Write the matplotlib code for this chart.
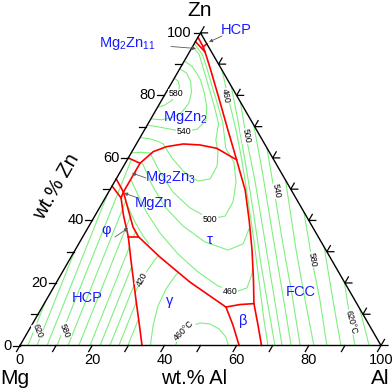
import numpy as np
import matplotlib
matplotlib.use('Agg')
import matplotlib.pyplot as plt
from matplotlib.path import Path

plt.rcParams['font.family'] = ['Liberation Sans', 'DejaVu Sans']
plt.rcParams['mathtext.fontset'] = 'custom'
plt.rcParams['mathtext.rm'] = 'Liberation Sans'
plt.rcParams['mathtext.it'] = 'Liberation Sans:italic'

# ---------------- data: compositions (wt.% Al, wt.% Zn) ----------------
# red phase boundaries
hcp_gamma = [(33.8, 0), (29.4, 7.2), (24.85, 14.56), (17.05, 27.35), (12.6, 34.8)]
hcp_phi = [(12.6, 34.8), (7.8, 41.7), (4.4, 47.2)]
phi_gamma = [(12.6, 34.8), (15.4, 34.8)]
phi_tau = [(15.4, 34.8), (12.35, 37.9), (4.1, 49.1)]
hcp_mgzn = [(0, 51.0), (4.4, 47.2)]
mgzn_phi = [(4.4, 47.2), (4.1, 49.1)]
mg2zn3_mgzn = [(0, 53.3), (4.1, 49.1)]
mg2zn3_tau = [(4.1, 49.1), (4.1, 58.3)]
mg2zn3_mgzn2 = [(0, 60.0), (4.1, 58.3)]
tau_mgzn2 = [(4.1, 58.3), (5.9, 62.0), (8.8, 63.6), (13.0, 64.46), (17.8, 64.14), (22.95, 63.08), (30.3, 59.4)]
fcc_mgzn2 = [(30.3, 59.4), (23.15, 68.9), (14.8, 80.1), (8.25, 88.8), (4.3, 93.9)]
fcc_tau = [(30.3, 59.4), (33.2, 55.5), (37.5, 49.74), (43.4, 40.15), (49.0, 30.55), (54.2, 20.95), (58.1, 13.4)]
gamma_tau = [(15.4, 34.8), (24.6, 28.3), (36.9, 20.3), (50.9, 12.3)]
gamma_beta = [(50.9, 12.3), (55.7, 6.56), (60.7, 0)]
beta_tau = [(50.9, 12.3), (54.4, 13.1), (58.1, 13.4)]
beta_fcc = [(58.1, 13.4), (62.65, 6.56), (66.9, 0)]
mgzn2_mg2zn11 = [(0, 97.2), (4.3, 93.9)]
mg2zn11_fcc = [(4.3, 93.9), (3.0, 95.5)]
mg2zn11_hcp = [(0, 98.6), (3.0, 95.5)]
hcpzn_fcc = [(3.0, 95.5), (3.5, 96.5)]

# green liquidus isotherms
iso_hcp = [
    [(2.2, 0), (0, 14.3)],
    [(4.7, 0), (0, 30.6)],
    [(7.5, 0), (0, 48.8)],
    [(10.25, 0), (0.88, 61)],
    [(13.3, 0), (3.93, 61)],
    [(16.3, 0), (6.93, 61)],
    [(19.4, 0), (10.03, 61)],
    [(22.2, 0), (12.83, 61)],
    [(24.9, 0), (15.53, 61)],
    [(27.4, 0), (18.03, 61)],
    [(29.9, 0), (20.53, 61)],
]
iso_gamma = [
    [(23.6, 14.9), (23.3, 18.7), (23.2, 21.3), (23.3, 24.2), (23.6, 27.0), (24.1, 29.9), (24.5, 31.5)],
    [(36.3, -0.5), (33.6, 6.6), (31.9, 12.6), (31.4, 18.1), (31.9, 22.6), (32.8, 24.8)],
    [(43.2, -0.5), (42.6, 2.4), (42.8, 4.6), (44.0, 6.2), (46.3, 7.2), (49.2, 6.9), (52.5, 5.3), (55.7, 2.7), (58.1, -0.5)],
]
iso_tau_mgzn2 = [
    [(0, 85.5), (1.5, 84.6), (2.8, 82.8), (3.3, 80.5), (2.8, 78.3), (1.5, 76.8), (0, 76.2)],
    [(0, 88.5), (2.5, 87.2), (5.0, 84.5), (7.0, 81.0), (8.0, 77.5), (7.5, 74.5), (5.5, 72.8), (3.0, 72.2), (0, 72.5)],
    [(0, 91.0), (3.0, 89.3), (5.5, 87.0), (7.5, 85.0), (10.5, 81.0), (13.5, 76.5), (15.5, 72.0), (14.5, 69.2),
     (11.2, 68.4), (7.0, 69.2), (3.0, 70.0), (0, 70.5)],
    [(0, 66.5), (2.5, 66.2), (5.0, 65.5), (7.4, 64.5), (12.1, 60.0), (17.7, 55.5), (23.0, 52.6), (26.0, 53.3),
     (25.9, 57.4), (23.9, 61.9), (21.4, 65.7), (19.5, 71.0), (15.5, 76.6), (11.0, 82.6), (6.5, 88.6), (3.0, 93.2), (0, 95.5)],
    [(0, 61.6), (2.5, 61.8), (5.2, 61.6), (11.0, 55.5), (17.8, 49.1), (25.1, 44.0), (32.4, 40.5), (36.1, 41.4),
     (36.05, 45.9), (33.7, 52.3), (29.9, 58.7), (25.5, 63.0), (20.7, 71.0), (16.6, 76.6), (12.0, 82.6), (7.5, 88.6),
     (3.9, 93.2), (0, 96.5)],
    [(4.3, 58.6), (5.12, 57.9), (10.9, 51.34), (18.02, 44.31), (26.04, 38.23), (34.69, 33.11), (42.35, 30.55),
     (45.54, 32.47), (44.6, 38.55)],
    [(4.28, 52.94), (8.62, 48.14), (13.98, 42.39), (20.78, 35.99), (29.13, 29.27), (37.55, 23.51), (45.33, 19.03),
     (51.0, 17.11), (53.68, 18.39), (52.83, 22.87), (50.68, 27.99)],
    [(7.17, 44.94), (12.1, 39.51), (16.56, 35.03), (19.5, 32.47)],
]
iso_fcc = [
    [(88.0, 12.0), (92.0, 6.56), (96.7, 0)],
    [(79.7, 20.3), (87.0, 8.8), (92.8, 0)],
    [(68.5, 31.5), (79.4, 14.56), (88.9, 0)],
    [(57.3, 42.7), (67.2, 27.35), (75.8, 14.56), (85.0, 0)],
    [(47.1, 52.9), (61.2, 30.55), (71.7, 14.56), (81.4, 0)],
    [(36.8, 63.2), (45.5, 49.74), (56.8, 32.15), (67.3, 16.15), (77.6, 0)],
    [(29.5, 70.5), (39.0, 56.1), (51.3, 36.95), (63.7, 17.75), (75.1, 0)],
    [(22.1, 77.9), (28.9, 67.3), (38.6, 52.9), (49.9, 35.35), (61.2, 17.75), (72.6, 0)],
    [(17.0, 83.0), (24.3, 72.1), (33.7, 57.7), (43.9, 41.75), (53.9, 25.75), (62.2, 12.96), (70.6, 0)],
    [(11.9, 88.1), (18.6, 78.5), (25.4, 68.9), (31.8, 59.3), (39.9, 46.55), (47.9, 33.75), (55.7, 20.95),
     (63.5, 8.16), (68.7, 0)],
]

tick_vals = list(range(0, 101, 10))
label_vals = [0, 20, 40, 60, 80, 100]

# ---------------- helpers ----------------
S3 = np.sqrt(3) / 2
PX = 3.61  # pixels per wt.%


def tern(pts):
    a = np.asarray(pts, float)
    al, zn = a[:, 0], a[:, 1]
    return np.column_stack([al + zn / 2, zn * S3])


def P(px, py):  # layout: pixel position -> data position
    return ((px - 20) / PX, (345.5 - py) / PX)


def region_path(*segs):
    pts = np.vstack([tern(s) for s in segs])
    pts = np.vstack([pts, pts[:1]])
    return Path(pts)


fig = plt.figure(figsize=(3.92, 3.92), dpi=100)
ax = fig.add_axes([0, 0, 1, 1])
ax.set_xlim(-20 / PX, 372 / PX)
ax.set_ylim(-46.5 / PX, 345.5 / PX)
ax.axis('off')

left_band = region_path([(0, 0)], hcp_gamma, phi_gamma[1:], phi_tau[1:], mg2zn3_tau[1:], [(0, 60.0)])
gamma_reg = region_path(hcp_gamma, phi_gamma[1:], gamma_tau[1:], gamma_beta[1:])
tau_reg = region_path([(0, 60.0), (0, 97.2)], fcc_mgzn2[::-1], fcc_tau[1:], beta_tau[::-1][1:],
                      gamma_tau[::-1][1:], phi_tau[1:], mg2zn3_tau[1:])
fcc_reg = region_path([(3.5, 96.5), (100, 0), (66.9, 0)], beta_fcc[::-1][1:], fcc_tau[::-1][1:],
                      fcc_mgzn2[1:], mg2zn11_fcc[1:])

GREEN = '#7ef07e'
for group, reg in [(iso_hcp, left_band), (iso_gamma, gamma_reg), (iso_tau_mgzn2, tau_reg), (iso_fcc, fcc_reg)]:
    for c in group:
        xy = tern(c)
        ln, = ax.plot(xy[:, 0], xy[:, 1], color=GREEN, lw=0.8, zorder=2)
        ln.set_clip_path(reg, ax.transData)

reds = [hcp_gamma, hcp_phi, phi_gamma, phi_tau, hcp_mgzn, mgzn_phi, mg2zn3_mgzn, mg2zn3_tau, mg2zn3_mgzn2,
        tau_mgzn2, fcc_mgzn2, fcc_tau, gamma_tau, gamma_beta, beta_tau, beta_fcc, mgzn2_mg2zn11,
        mg2zn11_fcc, mg2zn11_hcp, hcpzn_fcc]
for r in reds:
    xy = tern(r)
    ax.plot(xy[:, 0], xy[:, 1], color='red', lw=1.2, zorder=3, solid_capstyle='round')

# triangle frame
tri = tern([(0, 0), (100, 0), (0, 100), (0, 0)])
ax.plot(tri[:, 0], tri[:, 1], color='black', lw=1.0, zorder=4)

# ticks
L = 7 / PX
for v in tick_vals:
    x, y = tern([(0, v)])[0]
    ax.plot([x, x - L], [y, y], color='black', lw=0.9, zorder=4)
    x, y = tern([(v, 0)])[0]
    ax.plot([x, x - 0.5 * L], [y, y - S3 * L], color='black', lw=0.9, zorder=4)
    x, y = tern([(100 - v, v)])[0]
    ax.plot([x + L, x, x + 0.5 * L], [y, y, y + S3 * L], color='black', lw=0.9, zorder=4)
for v in label_vals:
    x, y = tern([(0, v)])[0]
    ax.text(x - 8.5 / PX, y, str(v), ha='right', va='center', fontsize=10.5)
    x, y = tern([(v, 0)])[0]
    ax.text(x, y - 14.5 / PX, str(v), ha='center', va='center', fontsize=10.5)

# axis titles
ax.text(*P(200, 11), 'Zn', ha='center', va='center', fontsize=15)
ax.text(*P(15, 379), 'Mg', ha='center', va='center', fontsize=15)
ax.text(*P(380, 379), 'Al', ha='center', va='center', fontsize=15)
ax.text(*P(194, 379), 'wt.% Al', ha='center', va='center', fontsize=14.5)
ax.text(*P(56, 187), 'wt.% Zn', ha='center', va='center', fontsize=14.5, rotation=60)

# phase labels
BLUE = '#1a1aff'
phase_labels = [
    ('HCP', (236, 30)), (r'Mg$_2$Zn$_{11}$', (127, 43)), (r'MgZn$_2$', (185, 117)),
    (r'Mg$_2$Zn$_3$', (171, 178)), ('MgZn', (154, 203)), ('φ', (106, 230)), ('τ', (210, 240)),
    ('γ', (170, 301)), ('β', (243, 321)), ('FCC', (301, 292)), ('HCP', (87, 298)),
]
for t, (px, py) in phase_labels:
    ax.text(*P(px, py), t, ha='center', va='center', fontsize=10.5, color=BLUE, zorder=6)

leaders = [((222, 36), (209, 42)), ((171, 46.5), (196, 48.5)), ((146, 178), (132, 173)),
           ((138, 198), (124, 193)), ((115, 237), (128, 228))]
for s, t in leaders:
    ax.annotate('', xy=P(*t), xytext=P(*s),
                arrowprops=dict(arrowstyle='-|>', color='0.35', lw=0.6, mutation_scale=5,
                                shrinkA=0, shrinkB=0), zorder=6)

# isotherm labels
iso_labels = [
    ('620', (38, 331), -68), ('580', (65, 331), -68), ('420', (142, 279), 62), ('460°C', (184, 331), 45),
    ('460', (230, 291), 0), ('500', (210, 219), 0), ('540', (184, 132), 0), ('580', (176, 94), 0),
    ('460', (226, 96), -80), ('500', (246, 136), -80), ('540', (276, 191), -80), ('580', (312, 260), -80),
    ('620°C', (351, 322), -75),
]
for t, (px, py), rot in iso_labels:
    ax.text(*P(px, py), t, ha='center', va='center', fontsize=6.3, rotation=rot, zorder=5,
            bbox=dict(boxstyle='square,pad=0.05', fc='white', ec='none'))

fig.savefig('out.png', dpi=100)
